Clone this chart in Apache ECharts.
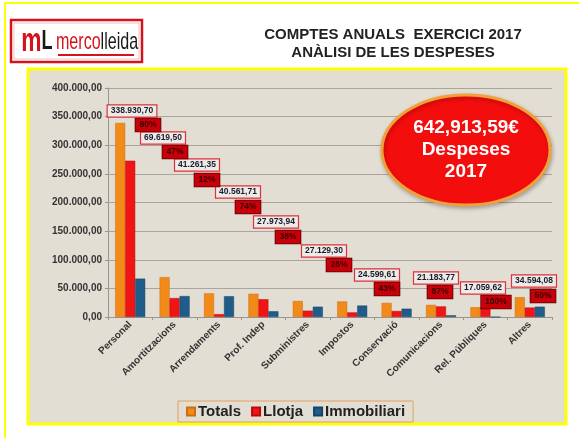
<!DOCTYPE html>
<html>
<head>
<meta charset="utf-8">
<script src="https://cdn.jsdelivr.net/npm/echarts@6/dist/echarts.min.js"></script>
<style>
  html, body { margin: 0; padding: 0; background: #fff; }
  #main { width: 579px; height: 438px; }
</style>
</head>
<body>
<div id="main"></div>
<script>
// categories i valors (llegits del gràfic)
const categories = ['Personal', 'Amortitzacions', 'Arrendaments', 'Prof. Indep', 'Subministres',
  'Impostos', 'Conservació', 'Comunicacions', 'Rel. Públiques', 'Altres']
const totals = [338930.70, 69619.50, 41261.35, 40561.71, 27973.94, 27129.30, 24599.61, 21183.77, 17059.62, 34594.08]
const llotja = [273000, 33000, 5000, 31000, 11000, 8000, 10500, 18500, 17000, 16500]
const immobiliari = [67000, 36600, 36300, 10000, 18000, 20000, 14500, 3000, 0, 18000]
const percents = ['80%', '47%', '12%', '74%', '38%', '28%', '43%', '87%', '100%', '50%']
const yTicks = [0, 50000, 100000, 150000, 200000, 250000, 300000, 350000, 400000]
const totalDespeses = '642,913,59€'

// posició de les etiquetes en escala (es van moure a mà a l'original)
const valPos = [[132, 111], [163, 138], [197, 165], [238, 192], [276, 222], [324, 251], [377, 275], [436, 278], [483, 288], [534, 281]]
const pctPos = [[148, 125], [175, 152], [207, 180], [248, 207], [288, 237], [339, 265], [387, 289], [440, 292], [496, 302], [543, 296]]

function fmt(v, dec) {
  const parts = v.toFixed(dec).split('.')
  const ent = parts[0].replace(/\B(?=(\d{3})+(?!\d))/g, '.')
  return ent + ',' + parts[1]
}

const chart = echarts.init(document.getElementById('main'))

const labels = []
totals.forEach(function (v, i) {
  labels.push({
    type: 'text', x: valPos[i][0], y: valPos[i][1], z: 100,
    style: {
      text: fmt(v, 2), align: 'center', verticalAlign: 'middle',
      font: 'bold 8.5px "Liberation Sans", sans-serif',
      fill: '#1a1a2a', backgroundColor: '#ecebe8', borderColor: '#e0303a', borderWidth: 1.2,
      padding: [1, 3, 1, 3]
    }
  })
  labels.push({
    type: 'text', x: pctPos[i][0], y: pctPos[i][1], z: 101,
    style: {
      text: percents[i], align: 'center', verticalAlign: 'middle',
      font: 'bold 8.5px "Liberation Sans", sans-serif',
      fill: '#3a0000', backgroundColor: '#c8000a', borderColor: '#5a0000', borderWidth: 0.8,
      padding: [2, 4, 2, 4]
    }
  })
})

chart.setOption({
  backgroundColor: '#ffffff',
  color: ['#f28a1a', '#f01414', '#1f5c8a'],
  animation: false,
  graphic: [
    // marcs grocs
    { type: 'rect', z: -10, shape: { x: 5, y: 3, width: 600, height: 460 },
      style: { fill: '#ffffff', stroke: '#ffff00', lineWidth: 2 } },
    { type: 'rect', z: -9, shape: { x: 28, y: 69, width: 538, height: 355 },
      style: { fill: '#e3ded4', stroke: '#ffff00', lineWidth: 3 } },
    // logo
    { type: 'rect', shape: { x: 11, y: 20, width: 131, height: 42 },
      style: { fill: '#ffffff', stroke: '#d4141c', lineWidth: 2.5 } },
    { type: 'rect', shape: { x: 14, y: 23, width: 125, height: 36 },
      style: { fill: 'none', stroke: '#f2b0b0', lineWidth: 0.8 } },
    { type: 'text', x: 16, y: 42, scaleX: 0.67, originX: 16,
      style: {
        text: '{m|m}{l|L}{a|merco}{b|lleida}', verticalAlign: 'middle',
        rich: {
          m: { font: 'bold 34px "Liberation Sans", sans-serif', fill: '#d4141c' },
          l: { font: 'bold 27px "Liberation Sans", sans-serif', fill: '#1a1a1a', padding: [0, 5, 0, 0] },
          a: { font: '24px "Liberation Sans", sans-serif', fill: '#d4141c' },
          b: { font: '24px "Liberation Sans", sans-serif', fill: '#1a1a1a' }
        }
      } },
    { type: 'line', shape: { x1: 58, y1: 55, x2: 134, y2: 55 },
      style: { stroke: '#d4141c', lineWidth: 2 } },
    // títol
    { type: 'text', x: 393, y: 35,
      style: { text: 'COMPTES ANUALS  EXERCICI 2017', align: 'center', verticalAlign: 'middle',
        font: 'bold 15px "Liberation Sans Narrow", "Liberation Sans", sans-serif', fill: '#222' } },
    { type: 'text', x: 393, y: 53,
      style: { text: 'ANÀLISI DE LES DESPESES', align: 'center', verticalAlign: 'middle',
        font: 'bold 15px "Liberation Sans Narrow", "Liberation Sans", sans-serif', fill: '#222' } },
    // el·lipse del total
    { type: 'ellipse', z: 90, shape: { cx: 466, cy: 150, rx: 84, ry: 55 },
      style: {
        fill: '#f40d0d',
        stroke: '#f2a03a', lineWidth: 3,
        shadowBlur: 4, shadowColor: 'rgba(0,0,0,0.25)', shadowOffsetX: 1, shadowOffsetY: 2
      } },
    { type: 'text', z: 91, x: 466, y: 150,
      style: { text: totalDespeses + '\nDespeses\n2017', align: 'center', verticalAlign: 'middle',
        font: 'bold 19px "Liberation Sans", sans-serif', lineHeight: 22, fill: '#ffffff' } }
  ].concat(labels),
  grid: { left: 108, right: 27, top: 88, bottom: 121 },
  legend: {
    left: 178, top: 401,
    icon: 'rect', itemWidth: 8, itemHeight: 8, itemGap: 10,
    borderColor: '#e0a060', borderWidth: 1, padding: [3, 8, 3, 8],
    backgroundColor: '#e3ded4',
    textStyle: { fontFamily: 'Liberation Sans', fontWeight: 'bold', fontSize: 15, color: '#222', padding: [0, 0, 0, -2] },
    data: ['Totals', 'Llotja', 'Immobiliari']
  },
  xAxis: {
    type: 'category',
    data: categories,
    axisLine: { lineStyle: { color: '#9a968f' } },
    axisTick: { show: true, length: 3, lineStyle: { color: '#9a968f' } },
    axisLabel: {
      interval: 0, rotate: 45, margin: 6,
      fontFamily: 'Liberation Sans', fontWeight: 'bold', fontSize: 10, color: '#333'
    }
  },
  yAxis: {
    type: 'value',
    min: yTicks[0], max: yTicks[yTicks.length - 1], interval: 50000,
    axisLine: { show: true, lineStyle: { color: '#9a968f' } },
    axisTick: { show: true, length: 3, lineStyle: { color: '#9a968f' } },
    splitLine: { lineStyle: { color: '#a9a59e', width: 1 } },
    axisLabel: {
      margin: 6,
      fontFamily: 'Liberation Sans', fontWeight: 'bold', fontSize: 10, color: '#333',
      formatter: function (v) { return fmt(v, 2) }
    }
  },
  series: [
    { name: 'Totals', type: 'bar', data: totals, barWidth: 10, barGap: '0%',
      itemStyle: { borderColor: '#c96f10', borderWidth: 0.5 } },
    { name: 'Llotja', type: 'bar', data: llotja, barWidth: 10, barGap: '0%',
      itemStyle: { borderColor: '#b80c0c', borderWidth: 0.5 } },
    { name: 'Immobiliari', type: 'bar', data: immobiliari, barWidth: 10, barGap: '0%',
      itemStyle: { borderColor: '#164466', borderWidth: 0.5 } }
  ]
})
</script>
</body>
</html>
